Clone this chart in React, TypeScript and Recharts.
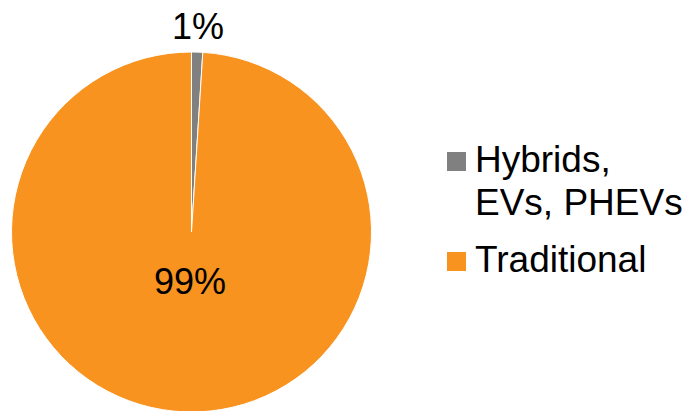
import { PieChart, Pie, Cell, Legend } from 'recharts';

const categories = ['Hybrids, EVs, PHEVs', 'Traditional'];
const shares = [1, 99];
const legendLines = [['Hybrids,', 'EVs, PHEVs'], ['Traditional']];
const COLORS = ['#808080', '#F7931E'];

const FONT = '"Liberation Sans", Arial, sans-serif';

const data = categories.map((name, i) => ({ name, value: shares[i] }));

const RAD = Math.PI / 180;

// small slices get their label outside the pie, the big one sits inside
function renderLabel(props: any) {
  const { cx, cy, midAngle, outerRadius, value } = props;
  const r = value < 5 ? outerRadius + 26 : 50;
  const x = cx + r * Math.cos(-midAngle * RAD);
  const y = cy + r * Math.sin(-midAngle * RAD);
  return (
    <text
      x={x}
      y={y}
      textAnchor="middle"
      dominantBaseline="central"
      fill="#000"
      fontSize={36}
      fontFamily={FONT}
    >
      {`${value}%`}
    </text>
  );
}

function LegendContent() {
  return (
    <div style={{ fontFamily: FONT, fontSize: 37, lineHeight: '43px', color: '#000' }}>
      {legendLines.map((lines, i) => (
        <div key={i} style={{ display: 'flex', marginBottom: i === 0 ? 14 : 0 }}>
          <div
            style={{
              width: 19,
              height: 19,
              background: COLORS[i],
              marginTop: 14,
              marginRight: 9,
              flex: 'none',
            }}
          />
          <div style={{ whiteSpace: 'nowrap' }}>
            {lines.map((l, j) => (
              <div key={j}>{l}</div>
            ))}
          </div>
        </div>
      ))}
    </div>
  );
}

export default function App() {
  return (
    <div style={{ position: 'absolute', left: 0, top: 0, background: '#fff' }}>
      <PieChart width={688} height={411} margin={{ top: 0, right: 0, bottom: 0, left: 0 }}>
        <Pie
          data={data}
          dataKey="value"
          nameKey="name"
          cx={191.5}
          cy={232}
          outerRadius={180}
          startAngle={90}
          endAngle={-270}
          stroke="#fff"
          strokeWidth={1}
          label={renderLabel}
          labelLine={false}
          isAnimationActive={false}
        >
          {data.map((d, i) => (
            <Cell key={d.name} fill={COLORS[i]} />
          ))}
        </Pie>
        <Legend
          content={<LegendContent />}
          wrapperStyle={{ left: 447, top: 138, width: 241, bottom: 'auto' }}
        />
      </PieChart>
    </div>
  );
}
